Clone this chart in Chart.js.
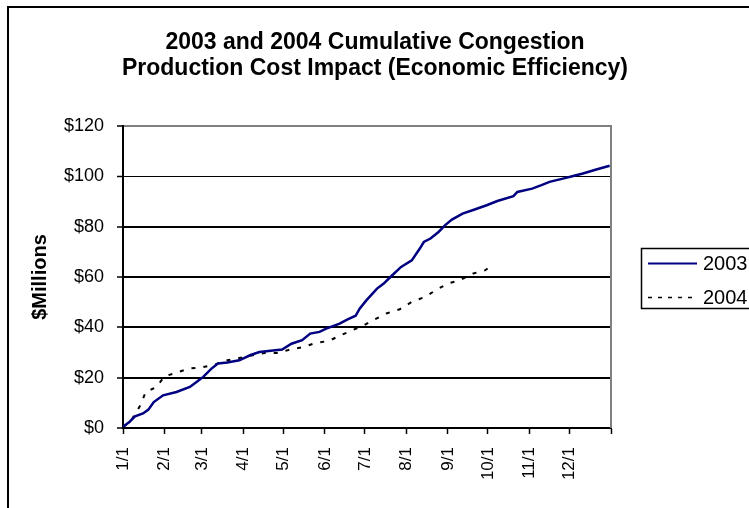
<!DOCTYPE html>
<html><head><meta charset="utf-8">
<script src="https://cdn.jsdelivr.net/npm/chart.js@4"></script>
<style>html,body{margin:0;padding:0;background:#fff}canvas{display:block}</style>
</head><body>
<canvas id="c" width="749" height="508"></canvas>
<script>
const titleLines = ['2003 and 2004 Cumulative Congestion', 'Production Cost Impact (Economic Efficiency)'];
const yAxisTitle = '$Millions';
const seriesNames = ['2003', '2004'];
const monthDays = [0, 31, 59, 90, 120, 151, 181, 212, 243, 273, 304, 334, 365];
const monthLabels = ['1/1', '2/1', '3/1', '4/1', '5/1', '6/1', '7/1', '8/1', '9/1', '10/1', '11/1', '12/1', ''];
const yTicks = [0, 20, 40, 60, 80, 100, 120];

const days2003 = [0, 5, 9, 15, 19, 23, 30, 40, 50, 55, 60, 66, 71, 78, 87, 95, 102, 119, 126, 134, 140, 147, 152, 162, 168, 174, 177, 182, 190, 195, 200, 208, 216, 222, 225, 230, 236, 241, 246, 254, 263, 272, 280, 292, 295, 306, 313, 319, 329, 336, 344, 354, 364];
const values2003 = [0.5, 2.5, 4.6, 5.8, 7.3, 10.3, 13, 14.3, 16.3, 18.3, 20.3, 23.5, 25.6, 26, 26.9, 28.9, 30.2, 31.2, 33.5, 34.9, 37.5, 38.2, 39.5, 41.5, 43.2, 44.6, 47.4, 50.7, 55.4, 57.4, 60, 64, 66.6, 71.3, 73.9, 75.3, 77.9, 80.6, 82.8, 85.2, 86.8, 88.5, 90.2, 92.1, 93.8, 95.1, 96.5, 97.8, 99.1, 100, 101.1, 102.7, 104.2];

const days2004 = [0, 5, 13, 17, 25, 31, 40, 49, 60, 69, 78, 89, 97, 106, 116, 125, 135, 144, 154, 161, 170, 180, 188, 197, 207, 216, 226, 235, 243, 252, 262, 271, 273];
const values2004 = [0.5, 2, 9, 14.3, 16.3, 20.5, 22, 23.6, 24.2, 25.3, 26.9, 28, 28.9, 29.8, 29.8, 31.2, 32.2, 33.8, 34.6, 36.4, 38.5, 40.8, 43.1, 45.5, 47.2, 50.1, 52.1, 55.1, 57.4, 58.7, 61.4, 62.7, 63.5];

const FONT = "'Liberation Sans', Arial, sans-serif";
const colors = ['#000080', '#000000'];

const decorPlugin = {
  id: 'decor',
  beforeDraw(chart) {
    const ctx = chart.ctx;
    ctx.save();
    ctx.fillStyle = '#fff';
    ctx.fillRect(0, 0, chart.width, chart.height);
    ctx.strokeStyle = '#000';
    ctx.lineWidth = 2;
    ctx.strokeRect(8, 7, chart.width + 20, chart.height + 20);
    ctx.restore();
  },
  beforeDatasetsDraw(chart) {
    const ctx = chart.ctx, a = chart.chartArea;
    ctx.save();
    ctx.strokeStyle = '#808080';
    ctx.lineWidth = 2;
    ctx.beginPath();
    ctx.moveTo(a.right, a.top - 1);
    ctx.lineTo(a.right, a.bottom);
    ctx.stroke();
    ctx.restore();
  },
  afterDraw(chart) {
    const ctx = chart.ctx;
    ctx.save();
    ctx.fillStyle = '#000';
    ctx.font = 'bold 23px ' + FONT;
    ctx.textAlign = 'center';
    ctx.textBaseline = 'alphabetic';
    ctx.fillText(titleLines[0], 375, 48.5);
    ctx.fillText(titleLines[1], 375, 74.5);
    // legend
    ctx.strokeStyle = '#000';
    ctx.lineWidth = 1.5;
    ctx.strokeRect(641.5, 248.5, 150, 60);
    const rows = [263.5, 297.5];
    chart.data.datasets.forEach((ds, i) => {
      ctx.beginPath();
      ctx.strokeStyle = ds.borderColor;
      ctx.lineWidth = i === 0 ? 2 : 1.5;
      ctx.setLineDash(i === 0 ? [] : [4, 6]);
      ctx.moveTo(648, rows[i]);
      ctx.lineTo(697, rows[i]);
      ctx.stroke();
      ctx.setLineDash([]);
      ctx.fillStyle = '#000';
      ctx.font = '20px ' + FONT;
      ctx.textAlign = 'left';
      ctx.textBaseline = 'middle';
      ctx.fillText(ds.label, 703, rows[i] + 1);
    });
    ctx.restore();
  }
};

new Chart(document.getElementById('c'), {
  type: 'line',
  data: {
    datasets: [
      { label: seriesNames[0], data: days2003.map((d, i) => ({ x: d, y: values2003[i] })), borderColor: colors[0], borderWidth: 2.5, pointRadius: 0, tension: 0, fill: false },
      { label: seriesNames[1], data: days2004.map((d, i) => ({ x: d, y: values2004[i] })), borderColor: colors[1], borderWidth: 2, borderDash: [4, 8], borderCapStyle: 'butt', pointRadius: 0, tension: 0, fill: false }
    ]
  },
  options: {
    responsive: false,
    animation: false,
    devicePixelRatio: 1,
    layout: { padding: { left: 10, right: 138, top: 126, bottom: 0 } },
    plugins: { legend: { display: false }, title: { display: false }, tooltip: { enabled: false } },
    scales: {
      x: {
        type: 'linear', min: 0, max: 365,
        afterBuildTicks: s => { s.ticks = monthDays.map(v => ({ value: v })); },
        afterFit: s => { s.height = 80; },
        ticks: { autoSkip: false, minRotation: 90, maxRotation: 90, padding: 13, color: '#000', font: { family: FONT, size: 17 },
          callback: v => { const k = monthDays.indexOf(v); return k >= 0 ? monthLabels[k] : ''; } },
        grid: { drawOnChartArea: false, drawTicks: true, tickLength: 6, color: '#000', tickColor: '#000', tickWidth: 1.5 },
        border: { display: true, color: '#000', width: 2 }
      },
      y: {
        min: 0, max: 120,
        afterBuildTicks: s => { s.ticks = yTicks.map(v => ({ value: v })); },
        afterFit: s => { s.width = 113; },
        ticks: { padding: 13, color: '#000', font: { family: FONT, size: 18 }, callback: v => '$' + v },
        grid: {
          color: c => (c.tick && c.tick.value === 120) ? '#808080' : '#000',
          lineWidth: c => (c.tick && c.tick.value === 100) ? 1 : 2,
          tickLength: 6, drawTicks: true, tickColor: '#000', tickWidth: 1.5
        },
        border: { color: '#000', width: 2 },
        title: { display: true, text: yAxisTitle, color: '#000', font: { family: FONT, size: 20, weight: 'bold' }, padding: { top: 18, bottom: 0 } }
      }
    }
  },
  plugins: [decorPlugin]
});
</script>
</body></html>
